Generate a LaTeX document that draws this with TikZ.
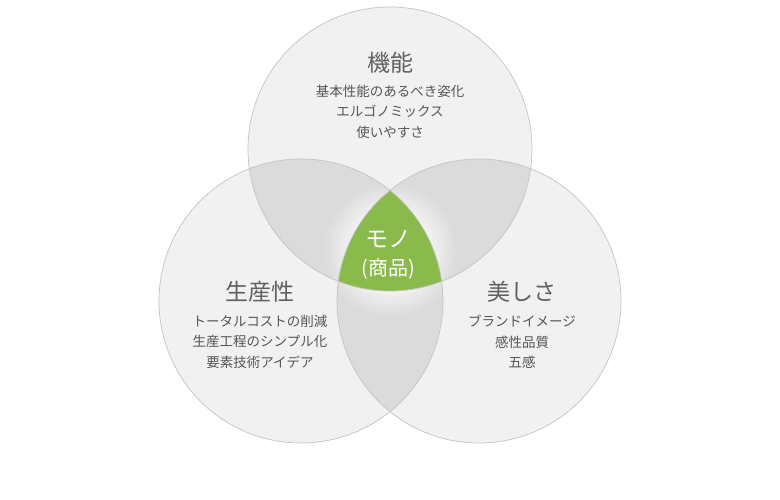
\documentclass[tikz,border=0pt]{standalone}
\usepackage{fontspec}
\newfontfamily\jpfont{Noto Sans CJK JP}
\usetikzlibrary{positioning}
\definecolor{discfill}{HTML}{F1F1F1}
\definecolor{discline}{HTML}{C4C4C4}
\definecolor{lensgray}{HTML}{DCDBDC}
\definecolor{monogreen}{HTML}{8BBA4C}
\definecolor{headgray}{HTML}{606060}
\definecolor{itemgray}{HTML}{555555}
\pgfdeclareradialshading{lensglow}{\pgfpoint{0bp}{0bp}}{color(0bp)=(discfill); color(13bp)=(discfill); color(21bp)=(lensgray); color(50bp)=(lensgray)}
\newcommand\discr{142}

\begin{document}
\begin{tikzpicture}[x=1pt, y=-1pt,
  disc/.style={draw=discline, line width=0.7pt},
  headline/.style={inner sep=0pt, text=headgray, font=\jpfont\fontsize{23}{26}\selectfont},
  itemlist/.style={inner sep=0pt, text=itemgray, align=center, font=\jpfont\fontsize{13.5}{20.5}\selectfont},
  monolabel/.style={inner sep=0pt, text=white, align=center}]
 \fill[white] (0,0) rectangle (780,500);
 \useasboundingbox (0,0) rectangle (780,500);
 \coordinate (topc) at (390,149);
 \coordinate [below left=152pt and 89pt of topc] (leftc);
 \coordinate [below right=152pt and 89pt of topc] (rightc);
 \coordinate [below=101pt of topc] (mid);
 % discs
 \foreach \c in {topc, leftc, rightc}
  \fill[discfill] (\c) circle (\discr);
 % overlaps of two discs
 \foreach \a/\b in {topc/leftc, topc/rightc, leftc/rightc} {
  \begin{scope}
   \clip (\a) circle (\discr);
   \clip (\b) circle (\discr);
   \fill[lensgray] (\b) circle (\discr);
   \shade[shading=lensglow] (mid) circle (80);
  \end{scope}
 }
 % all three
 \begin{scope}
  \clip (topc) circle (\discr);
  \clip (leftc) circle (\discr);
  \fill[monogreen] (rightc) circle (\discr);
 \end{scope}
 \foreach \c in {topc, leftc, rightc}
  \draw[disc] (\c) circle (\discr);
 % labels
 \node[headline] (kinou) at (390,63) {機能};
 \node[itemlist, below=11pt of kinou] (kinouitems) {基本性能のあるべき姿化\\エルゴノミックス\\使いやすさ};
 \node[headline] (seisan) at (260,292) {生産性};
 \node[itemlist, below=12pt of seisan] (seisanitems) {トータルコストの削減\\生産工程のシンプル化\\要素技術アイデア};
 \node[headline] (bi) at (522,292) {美しさ};
 \node[itemlist, below=12pt of bi] (biitems) {ブランドイメージ\\感性品質\\五感};
 \node[monolabel, font=\jpfont\fontsize{23}{26}\selectfont] (mono) at (388,239) {モノ};
 \node[monolabel, font=\jpfont\fontsize{20}{22}\selectfont, below=11pt of mono] (shohin) {(商品)};
\end{tikzpicture}
\end{document}
